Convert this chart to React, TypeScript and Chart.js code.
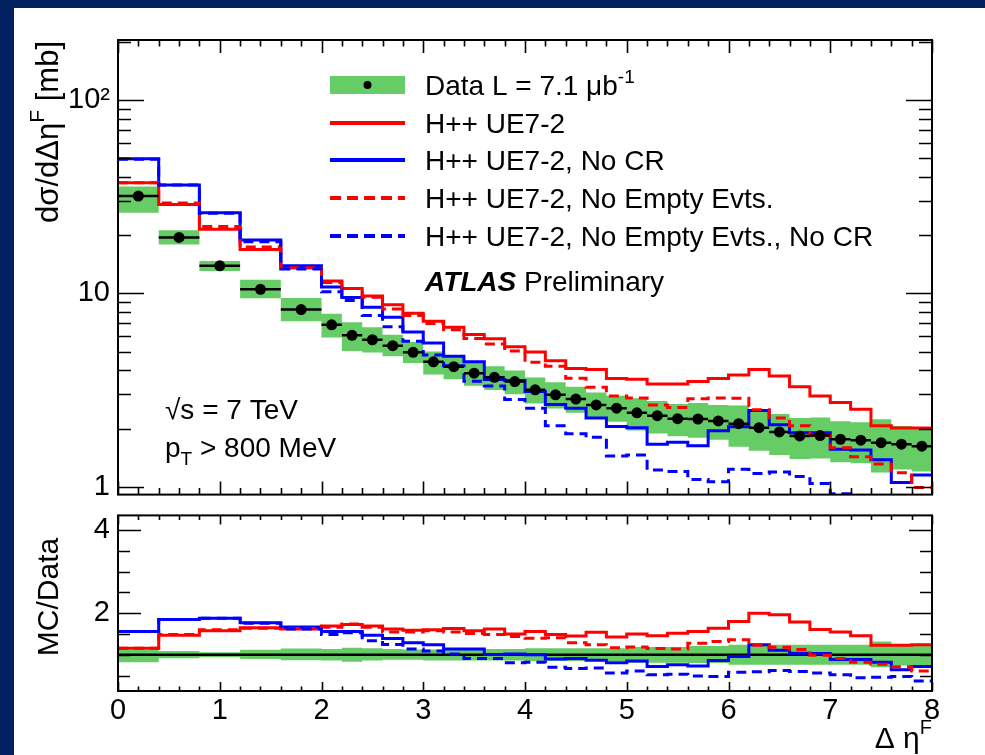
import React, { useEffect, useRef } from 'react';
import { Chart, registerables } from 'chart.js';

Chart.register(...registerables);

const FONT = '"Liberation Sans", Arial, Helvetica, sans-serif';

// ---- bins (Δη^F) ----
const binEdges = [0, 0.4, 0.8, 1.2, 1.6, 2.0, 2.2, 2.4, 2.6, 2.8, 3.0, 3.2, 3.4, 3.6, 3.8, 4.0, 4.2, 4.4, 4.6, 4.8, 5.0, 5.2, 5.4, 5.6, 5.8, 6.0, 6.2, 6.4, 6.6, 6.8, 7.0, 7.2, 7.4, 7.6, 7.8, 8.0];

// ---- data dσ/dΔη^F [mb] ----
const dataValues = [31.9, 19.5, 13.9, 10.5, 8.25, 6.88, 6.07, 5.76, 5.37, 4.96, 4.43, 4.18, 3.87, 3.68, 3.50, 3.17, 2.99, 2.84, 2.65, 2.55, 2.41, 2.33, 2.25, 2.24, 2.19, 2.12, 2.02, 1.92, 1.83, 1.84, 1.76, 1.74, 1.69, 1.66, 1.62];
const dataRelErrUp = [0.12, 0.09, 0.06, 0.12, 0.15, 0.14, 0.17, 0.16, 0.14, 0.13, 0.13, 0.14, 0.14, 0.14, 0.14, 0.16, 0.16, 0.16, 0.16, 0.16, 0.19, 0.19, 0.19, 0.21, 0.21, 0.24, 0.24, 0.24, 0.24, 0.24, 0.24, 0.24, 0.32, 0.24, 0.24];
const dataRelErrDown = [0.18, 0.08, 0.06, 0.10, 0.13, 0.14, 0.17, 0.14, 0.12, 0.12, 0.14, 0.14, 0.14, 0.14, 0.14, 0.15, 0.15, 0.15, 0.15, 0.15, 0.19, 0.19, 0.19, 0.20, 0.20, 0.24, 0.24, 0.24, 0.24, 0.24, 0.24, 0.24, 0.30, 0.26, 0.26];

// ---- MC predictions (top panel) ----
const mcNominal = [37.4, 28.9, 21.5, 16.9, 13.6, 11.6, 10.6, 9.7, 8.75, 7.9, 7.18, 6.69, 6.14, 5.83, 5.3, 4.98, 4.48, 4.09, 4.04, 3.63, 3.60, 3.40, 3.40, 3.50, 3.63, 3.78, 4.04, 3.74, 3.29, 2.95, 2.73, 2.52, 2.07, 2.01, 2.01];
const mcNoCR = [49.8, 36.4, 26.2, 18.9, 13.9, 10.8, 9.54, 8.48, 7.53, 6.31, 5.54, 4.73, 4.43, 3.59, 3.54, 3.11, 2.66, 2.55, 2.27, 2.05, 2.02, 1.66, 1.70, 1.63, 1.95, 2.04, 2.48, 2.09, 1.90, 1.90, 1.56, 1.55, 1.38, 1.05, 1.15];
const mcNoEmpty = [37.4, 29.4, 22.2, 17.4, 13.6, 11.4, 10.6, 9.56, 8.32, 7.69, 7.0, 6.48, 5.84, 5.48, 5.04, 4.4, 4.2, 3.64, 3.27, 2.95, 2.88, 2.65, 2.57, 2.85, 2.88, 2.87, 2.50, 2.27, 2.07, 1.84, 1.59, 1.43, 1.31, 1.18, 0.99];
const mcNoEmptyNoCR = [49.5, 36.4, 26.0, 18.5, 13.4, 10.2, 9.2, 7.7, 6.73, 5.66, 4.81, 4.22, 3.51, 3.32, 2.83, 2.55, 2.07, 1.88, 1.80, 1.44, 1.46, 1.22, 1.20, 1.09, 1.06, 1.23, 1.17, 1.19, 1.13, 1.04, 0.92, 0.78, 0.78, 0.80, 0.60];

// ---- MC / Data (bottom panel) ----
const ratioNominal = [1.16, 1.47, 1.58, 1.65, 1.62, 1.69, 1.73, 1.69, 1.62, 1.59, 1.60, 1.63, 1.58, 1.62, 1.50, 1.56, 1.49, 1.45, 1.54, 1.43, 1.50, 1.46, 1.52, 1.56, 1.64, 1.80, 2.00, 1.96, 1.79, 1.61, 1.55, 1.46, 1.23, 1.23, 1.24];
const ratioNoCR = [1.56, 1.85, 1.88, 1.77, 1.67, 1.56, 1.56, 1.47, 1.39, 1.29, 1.24, 1.14, 1.14, 1.01, 1.02, 1.00, 0.90, 0.91, 0.87, 0.81, 0.85, 0.72, 0.76, 0.73, 0.86, 0.96, 1.24, 1.11, 1.04, 1.03, 0.89, 0.89, 0.82, 0.64, 0.72];
const ratioNoEmpty = [1.16, 1.49, 1.60, 1.64, 1.63, 1.66, 1.74, 1.66, 1.55, 1.55, 1.58, 1.55, 1.51, 1.49, 1.44, 1.40, 1.41, 1.29, 1.24, 1.17, 1.19, 1.15, 1.14, 1.28, 1.32, 1.36, 1.23, 1.18, 1.13, 0.99, 0.91, 0.82, 0.77, 0.71, 0.61];
const ratioNoEmptyNoCR = [1.56, 1.85, 1.88, 1.76, 1.62, 1.49, 1.53, 1.34, 1.25, 1.14, 1.09, 1.02, 0.91, 0.91, 0.81, 0.82, 0.70, 0.67, 0.68, 0.56, 0.61, 0.52, 0.53, 0.49, 0.48, 0.58, 0.59, 0.62, 0.60, 0.56, 0.52, 0.45, 0.46, 0.48, 0.37];

// ---- axes ----
const xTickLabels = [0, 1, 2, 3, 4, 5, 6, 7, 8];
const xMinorStep = 0.2;
const topYLabels = [1, 10, 100];
const topYMinor = [2, 3, 4, 5, 6, 7, 8, 9, 20, 30, 40, 50, 60, 70, 80, 90, 200];
const ratioYLabels = [2, 4];
const ratioYMinor = [0.5, 1, 1.5, 2.5, 3, 3.5];

const legendLabels = ['Data L = 7.1 \u03bcb', 'H++ UE7-2', 'H++ UE7-2, No CR', 'H++ UE7-2, No Empty Evts.', 'H++ UE7-2, No Empty Evts., No CR'];

const RED = '#ff0000';
const BLUE = '#0000ff';
const GREEN = 'rgb(102,204,102)';
const DASH = [10, 6];

function stepPoints(values: number[]) {
  return binEdges.map((x, i) => ({ x, y: values[Math.min(i, values.length - 1)] }));
}
function binCenters() {
  return dataValues.map((_, i) => (binEdges[i] + binEdges[i + 1]) / 2);
}
function xErrPoints(values: number[]) {
  const pts: { x: number; y: number | null }[] = [];
  values.forEach((v, i) => {
    pts.push({ x: binEdges[i], y: v }, { x: binEdges[i + 1], y: v }, { x: binEdges[i + 1], y: null });
  });
  return pts;
}
function xMinorTicks() {
  const t: number[] = [];
  for (let i = 0; i <= Math.round(8 / xMinorStep); i++) {
    const v = +(i * xMinorStep).toFixed(2);
    if (Math.abs(v - Math.round(v)) > 1e-6) t.push(v);
  }
  return t;
}

function histLine(label: string, values: number[], color: string, dashed: boolean, order: number) {
  return {
    label,
    data: stepPoints(values),
    stepped: true,
    borderColor: color,
    borderWidth: 3,
    borderDash: dashed ? DASH : [],
    pointRadius: 0,
    fill: false,
    tension: 0,
    order,
  };
}

function framePlugin(cfg: { yMajor: number[]; yMinor: number[]; xMajLen: number; xMinLen: number; yMajLen: number; yMinLen: number }) {
  return {
    id: 'rootFrame',
    afterDatasetsDraw(chart: any) {
      const { ctx, chartArea: a, scales } = chart;
      const xs = scales.x;
      const ys = scales.y;
      ctx.save();
      ctx.strokeStyle = '#000';
      ctx.lineWidth = 1.6;
      ctx.setLineDash([]);
      ctx.beginPath();
      const xt = (v: number, len: number) => {
        const px = Math.round(xs.getPixelForValue(v)) + 0.5;
        ctx.moveTo(px, a.bottom);
        ctx.lineTo(px, a.bottom - len);
        ctx.moveTo(px, a.top);
        ctx.lineTo(px, a.top + len);
      };
      const yt = (v: number, len: number) => {
        const py = Math.round(ys.getPixelForValue(v)) + 0.5;
        if (py < a.top || py > a.bottom) return;
        ctx.moveTo(a.left, py);
        ctx.lineTo(a.left + len, py);
        ctx.moveTo(a.right, py);
        ctx.lineTo(a.right - len, py);
      };
      xTickLabels.forEach((v) => xt(v, cfg.xMajLen));
      xMinorTicks().forEach((v) => xt(v, cfg.xMinLen));
      cfg.yMajor.forEach((v) => yt(v, cfg.yMajLen));
      cfg.yMinor.forEach((v) => yt(v, cfg.yMinLen));
      ctx.stroke();
      ctx.lineWidth = 2;
      ctx.strokeRect(a.left, a.top, a.right - a.left, a.bottom - a.top);
      ctx.restore();
    },
  };
}

type Run = { t: string; size: number; style?: string; dy?: number };
function drawRuns(ctx: CanvasRenderingContext2D, runs: Run[], x: number, y: number) {
  for (const r of runs) {
    ctx.font = `${r.style || ''} ${r.size}px ${FONT}`;
    ctx.fillText(r.t, x, y + (r.dy || 0));
    x += ctx.measureText(r.t).width;
  }
  return x;
}
function runsWidth(ctx: CanvasRenderingContext2D, runs: Run[]) {
  let w = 0;
  for (const r of runs) {
    ctx.font = `${r.style || ''} ${r.size}px ${FONT}`;
    w += ctx.measureText(r.t).width;
  }
  return w;
}
function drawVerticalTitle(ctx: CanvasRenderingContext2D, runs: Run[], baseX: number, anchorY: number, align: 'end' | 'center') {
  const w = runsWidth(ctx, runs);
  ctx.save();
  ctx.translate(baseX, anchorY);
  ctx.rotate(-Math.PI / 2);
  ctx.textAlign = 'left';
  ctx.textBaseline = 'alphabetic';
  drawRuns(ctx, runs, align === 'end' ? -w : -w / 2, 0);
  ctx.restore();
}

const topTextPlugin = {
  id: 'topText',
  afterDraw(chart: any) {
    const ctx: CanvasRenderingContext2D = chart.ctx;
    ctx.save();
    ctx.fillStyle = '#000';
    ctx.textAlign = 'left';
    ctx.textBaseline = 'alphabetic';
    drawVerticalTitle(ctx, [
      { t: 'd\u03c3/d\u0394\u03b7', size: 31 },
      { t: 'F', size: 21, dy: -14 },
      { t: ' [mb]', size: 31 },
    ], 58, 41, 'end');

    // legend
    const sx0 = 330, sx1 = 405, tx = 425;
    const rows = [85, 123, 160, 198, 236];
    ctx.fillStyle = GREEN;
    ctx.fillRect(sx0, rows[0] - 9, sx1 - sx0, 18);
    ctx.fillStyle = '#000';
    ctx.beginPath();
    ctx.arc((sx0 + sx1) / 2, rows[0], 4, 0, Math.PI * 2);
    ctx.fill();
    const lineSym = (y: number, color: string, dashed: boolean) => {
      ctx.save();
      ctx.strokeStyle = color;
      ctx.lineWidth = 4;
      ctx.setLineDash(dashed ? [11, 6] : []);
      ctx.beginPath();
      ctx.moveTo(sx0, y);
      ctx.lineTo(sx1, y);
      ctx.stroke();
      ctx.restore();
    };
    lineSym(rows[1], RED, false);
    lineSym(rows[2], BLUE, false);
    lineSym(rows[3], RED, true);
    lineSym(rows[4], BLUE, true);
    ctx.fillStyle = '#000';
    drawRuns(ctx, [{ t: legendLabels[0], size: 28 }, { t: '-1', size: 19, dy: -12 }], tx, rows[0] + 10);
    for (let i = 1; i < legendLabels.length; i++) {
      drawRuns(ctx, [{ t: legendLabels[i], size: 28 }], tx, rows[i] + 10);
    }
    drawRuns(ctx, [{ t: 'ATLAS', size: 28, style: 'italic bold' }, { t: ' Preliminary', size: 28 }], tx, 291);

    drawRuns(ctx, [{ t: '\u221As = 7 TeV', size: 28 }], 165, 419);
    drawRuns(ctx, [{ t: 'p', size: 28 }, { t: 'T', size: 19, dy: 8 }, { t: ' > 800 MeV', size: 28 }], 165, 457);
    ctx.restore();
  },
};

const bottomTextPlugin = {
  id: 'bottomText',
  afterDraw(chart: any) {
    const ctx: CanvasRenderingContext2D = chart.ctx;
    ctx.save();
    ctx.fillStyle = '#000';
    ctx.textAlign = 'left';
    ctx.textBaseline = 'alphabetic';
    drawVerticalTitle(ctx, [{ t: 'MC/Data', size: 30 }], 58, 597 - 490, 'center');
    const runs: Run[] = [{ t: '\u0394 \u03b7', size: 30 }, { t: 'F', size: 20, dy: -14 }];
    const w = runsWidth(ctx, runs);
    drawRuns(ctx, runs, 932 - w, 748 - 490);
    ctx.restore();
  },
};

function topConfig(): any {
  const centers = binCenters();
  return {
    type: 'line',
    data: {
      datasets: [
        {
          label: 'band-up',
          data: stepPoints(dataValues.map((v, i) => v * (1 + dataRelErrUp[i]))),
          stepped: true,
          borderColor: 'rgba(0,0,0,0)',
          borderWidth: 0,
          pointRadius: 0,
          backgroundColor: GREEN,
          fill: '+1',
          order: 10,
        },
        {
          label: 'band-down',
          data: stepPoints(dataValues.map((v, i) => v * (1 - dataRelErrDown[i]))),
          stepped: true,
          borderColor: 'rgba(0,0,0,0)',
          borderWidth: 0,
          pointRadius: 0,
          fill: false,
          order: 10,
        },
        histLine(legendLabels[1], mcNominal, RED, false, 5),
        histLine(legendLabels[2], mcNoCR, BLUE, false, 4),
        histLine(legendLabels[3], mcNoEmpty, RED, true, 3),
        histLine(legendLabels[4], mcNoEmptyNoCR, BLUE, true, 2),
        {
          label: 'data-xerr',
          data: xErrPoints(dataValues),
          borderColor: '#000',
          borderWidth: 2.5,
          pointRadius: 0,
          spanGaps: false,
          fill: false,
          order: 1,
        },
        {
          label: 'data',
          data: dataValues.map((v, i) => ({ x: centers[i], y: v })),
          showLine: false,
          pointRadius: 5.5,
          pointBorderWidth: 0,
          pointBackgroundColor: '#000',
          backgroundColor: '#000',
          order: 0,
        },
      ],
    },
    options: {
      animation: false,
      responsive: false,
      maintainAspectRatio: false,
      events: [],
      layout: { padding: { left: 8, right: 53, top: 40, bottom: 21 } },
      plugins: { legend: { display: false }, tooltip: { enabled: false } },
      scales: {
        x: { type: 'linear', min: 0, max: 8, display: false },
        y: {
          type: 'logarithmic',
          min: 0.91,
          max: 205,
          bounds: 'data',
          grid: { display: false, drawTicks: false },
          border: { display: false },
          afterBuildTicks: (scale: any) => {
            scale.ticks = topYLabels.map((v) => ({ value: v }));
          },
          afterFit: (scale: any) => {
            scale.width = 110;
          },
          ticks: {
            padding: 8,
            color: '#000',
            font: { family: FONT, size: 29 },
            callback: (v: number) => (v === 100 ? '10\u00b2' : String(v)),
          },
        },
      },
    },
    plugins: [framePlugin({ yMajor: topYLabels, yMinor: topYMinor, xMajLen: 13, xMinLen: 6.5, yMajLen: 26, yMinLen: 13 }), topTextPlugin],
  };
}

function bottomConfig(): any {
  return {
    type: 'line',
    data: {
      datasets: [
        {
          label: 'band-up',
          data: stepPoints(dataRelErrUp.map((e) => 1 + e)),
          stepped: true,
          borderColor: 'rgba(0,0,0,0)',
          borderWidth: 0,
          pointRadius: 0,
          backgroundColor: GREEN,
          fill: '+1',
          order: 10,
        },
        {
          label: 'band-down',
          data: stepPoints(dataRelErrDown.map((e) => 1 - e)),
          stepped: true,
          borderColor: 'rgba(0,0,0,0)',
          borderWidth: 0,
          pointRadius: 0,
          fill: false,
          order: 10,
        },
        {
          label: 'data-ratio',
          data: xErrPoints(dataValues.map((v) => v / v)),
          borderColor: '#000',
          borderWidth: 2.5,
          pointRadius: 0,
          spanGaps: false,
          fill: false,
          order: 6,
        },
        histLine(legendLabels[1], ratioNominal, RED, false, 5),
        histLine(legendLabels[2], ratioNoCR, BLUE, false, 4),
        histLine(legendLabels[3], ratioNoEmpty, RED, true, 3),
        histLine(legendLabels[4], ratioNoEmptyNoCR, BLUE, true, 2),
      ],
    },
    options: {
      animation: false,
      responsive: false,
      maintainAspectRatio: false,
      events: [],
      layout: { padding: { left: 8, right: 53, top: 9, bottom: 0 } },
      plugins: { legend: { display: false }, tooltip: { enabled: false } },
      scales: {
        x: {
          type: 'linear',
          min: 0,
          max: 8,
          bounds: 'data',
          grid: { display: false, drawTicks: false },
          border: { display: false },
          afterBuildTicks: (scale: any) => {
            scale.ticks = xTickLabels.map((v) => ({ value: v }));
          },
          afterFit: (scale: any) => {
            scale.height = 64;
          },
          ticks: {
            padding: 3,
            autoSkip: false,
            maxRotation: 0,
            color: '#000',
            font: { family: FONT, size: 29 },
            callback: (v: number) => String(v),
          },
        },
        y: {
          type: 'linear',
          min: 0.13,
          max: 4.35,
          bounds: 'data',
          grid: { display: false, drawTicks: false },
          border: { display: false },
          afterBuildTicks: (scale: any) => {
            scale.ticks = ratioYLabels.map((v) => ({ value: v }));
          },
          afterFit: (scale: any) => {
            scale.width = 110;
          },
          ticks: {
            padding: 8,
            color: '#000',
            font: { family: FONT, size: 29 },
            callback: (v: number) => String(v),
          },
        },
      },
    },
    plugins: [framePlugin({ yMajor: ratioYLabels, yMinor: ratioYMinor, xMajLen: 9, xMinLen: 4.5, yMajLen: 23, yMinLen: 12 }), bottomTextPlugin],
  };
}

export default function App() {
  const topRef = useRef<HTMLCanvasElement>(null);
  const botRef = useRef<HTMLCanvasElement>(null);
  useEffect(() => {
    const c1 = new Chart(topRef.current as HTMLCanvasElement, topConfig());
    const c2 = new Chart(botRef.current as HTMLCanvasElement, bottomConfig());
    return () => {
      c1.destroy();
      c2.destroy();
    };
  }, []);
  return (
    <div style={{ position: 'fixed', left: 0, top: 0, width: 985, height: 755, background: '#002060', overflow: 'hidden' }}>
      <div style={{ position: 'absolute', left: 14, top: 8, width: 971, height: 747, background: '#ffffff' }} />
      <canvas ref={botRef} width={985} height={265} style={{ position: 'absolute', left: 0, top: 490, width: 985, height: 265 }} />
      <canvas ref={topRef} width={985} height={520} style={{ position: 'absolute', left: 0, top: 0, width: 985, height: 520 }} />
    </div>
  );
}
